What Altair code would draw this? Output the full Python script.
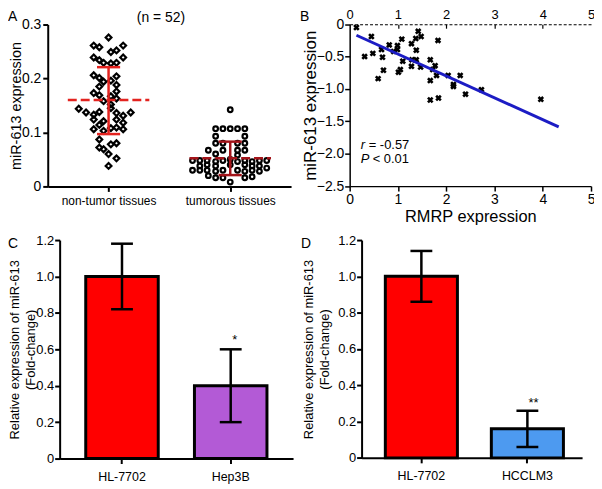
import altair as alt
import pandas as pd

W, H = 590, 481
FONT = "Liberation Sans"

# ---------------- Panel A data ----------------
groups = ["non-tumor tissues", "tumorous tissues"]
group_pos = [0.5, 1.5]
nt_jitter = [0, -0.122, -0.076, 0.120, 0.065, 0.019, -0.122, -0.076, 0.120, -0.041,
             0.019, 0.065, -0.122, -0.076, 0.065, -0.041, 0.019, 0.065, -0.076, -0.122,
             -0.076, 0.019, 0.065, -0.041, 0.019, 0.065, -0.245, -0.185, -0.122, -0.076,
             0.019, 0.065, 0.120, 0.182, -0.122, -0.041, 0.065, -0.076, 0.120, -0.122,
             -0.041, 0.019, 0.065, 0.120, -0.076, 0.019, 0.065, -0.041, -0.076, 0.0,
             0.065, 0.0]
nt_values = [0.276, 0.261, 0.258, 0.261, 0.252, 0.249, 0.239, 0.234, 0.239, 0.229,
             0.228, 0.229, 0.206, 0.201, 0.204, 0.194, 0.196, 0.188, 0.185, 0.173,
             0.169, 0.167, 0.176, 0.158, 0.152, 0.163, 0.144, 0.137, 0.133, 0.138,
             0.145, 0.136, 0.131, 0.137, 0.124, 0.121, 0.124, 0.114, 0.118, 0.106,
             0.103, 0.108, 0.109, 0.106, 0.087, 0.078, 0.080, 0.069, 0.072, 0.060,
             0.052, 0.038]
tu_jitter = [0,
             -0.12, -0.06, 0, 0.06, 0.12,
             -0.12, 0.12,
             -0.12, -0.06, 0.06, 0.12,
             -0.18, -0.06, 0.06, 0.12,
             -0.12, 0.06,
             -0.31, -0.25, -0.19, -0.12, -0.06, 0, 0.06, 0.12, 0.18, 0.24, 0.30,
             -0.25, -0.19, -0.12, 0, 0.12, 0.18, 0.24, 0.30,
             -0.31, -0.25, -0.19, -0.12, -0.06, 0.06, 0.12, 0.18, 0.24,
             -0.18, -0.12, -0.06, 0.12, 0.18,
             0]
tu_values = [0.142,
             0.107, 0.107, 0.107, 0.107, 0.107,
             0.093, 0.093,
             0.080, 0.080, 0.080, 0.080,
             0.067, 0.067, 0.067, 0.067,
             0.060, 0.058,
             0.048, 0.048, 0.048, 0.046, 0.048, 0.050, 0.046, 0.048, 0.046, 0.048, 0.048,
             0.038, 0.040, 0.038, 0.040, 0.040, 0.038, 0.038, 0.034,
             0.030, 0.030, 0.030, 0.028, 0.030, 0.030, 0.028, 0.030, 0.028,
             0.020, 0.016, 0.016, 0.016, 0.018,
             0.008]
a_mean = [0.160, 0.052]
a_lower = [0.097, 0.021]
a_upper = [0.221, 0.083]

# ---------------- Panel B data ----------------
rmrp = [0.14, 0.45, 0.31, 0.48, 0.59, 0.68, 0.70, 0.66, 0.82, 0.91, 0.99, 0.99, 1.08,
        1.10, 1.01, 1.05, 1.28, 1.37, 1.42, 1.48, 1.38, 1.29, 1.38, 1.28, 1.47, 1.83,
        1.67, 1.77, 1.72, 1.80, 1.67, 2.04, 2.29, 2.15, 2.15, 2.40, 2.73, 1.67, 1.84, 3.96]
mir613 = [-0.05, -0.19, -0.50, -0.45, -0.84, -0.51, -0.71, -0.39, -0.32, -0.42, -0.33,
          -0.39, -0.23, -0.57, -0.74, -0.70, -0.30, -0.22, -0.11, -0.19, -0.40, -0.55,
          -0.55, -0.65, -0.66, -0.25, -0.55, -0.64, -0.70, -0.79, -0.87, -0.79, -0.79,
          -0.93, -0.96, -1.08, -1.01, -1.17, -1.14, -1.16]
fit_x = [0.14, 4.33]
fit_y = [-0.17, -1.585]

# ---------------- Panel C / D data ----------------
c_lines = ["HL-7702", "Hep3B"]
c_mean = [1.0, 0.4]
c_err = [0.18, 0.20]
d_lines = ["HL-7702", "HCCLM3"]
d_mean = [1.0, 0.16]
d_err = [0.14, 0.10]

label_expr = "datum.value == 0 ? '0' : format(datum.value, '.1f')"
AX = dict(grid=False, titleFontWeight="normal", labelFont=FONT, titleFont=FONT,
          domainColor="black", tickColor="black", labelColor="black", titleColor="black")

# ================= Panel A =================
ax_s = alt.Scale(domain=[0, 2], range=[40, 285], nice=False, zero=False)
ay_s = alt.Scale(domain=[0, 0.3], range=[178, 15], nice=False)

axA_x = alt.Axis(orient="bottom", offset=178 - H, values=group_pos,
                 labelExpr="datum.value < 1 ? 'non-tumor tissues' : 'tumorous tissues'",
                 labelFontSize=12, labelPadding=4, tickSize=5, title="",
                 labelFlush=False, labelOverlap=False, domainWidth=2, tickWidth=2, **AX)
axA_y = alt.Axis(orient="left", offset=-40, values=[0, 0.1, 0.2, 0.3], labelExpr=label_expr,
                 labelFontSize=14, labelPadding=2, tickSize=5, title="miR-613 expression",
                 titleFontSize=14.5, titleX=-31, titleBaseline="middle",
                 domainWidth=2, tickWidth=2, labelOverlap=False, **AX)

df_nt = pd.DataFrame({"x": [group_pos[0] + j for j in nt_jitter], "y": nt_values})
df_tu = pd.DataFrame({"x": [group_pos[1] + j for j in tu_jitter], "y": tu_values})
df_as = pd.DataFrame({"x": group_pos, "m": a_mean, "lo": a_lower, "hi": a_upper,
                      "g": groups})

A_nt = alt.Chart(df_nt).mark_point(shape="diamond", filled=False, color="black",
                                   size=34, strokeWidth=2.2, opacity=1).encode(
    x=alt.X("x:Q", scale=ax_s, axis=axA_x),
    y=alt.Y("y:Q", scale=ay_s, axis=axA_y))
A_tu = alt.Chart(df_tu).mark_point(shape="circle", filled=False, color="black",
                                   size=22, strokeWidth=2.2, opacity=1).encode(
    x=alt.X("x:Q", scale=ax_s, axis=None),
    y=alt.Y("y:Q", scale=ay_s, axis=None))

a_col = alt.Color("g:N", scale=alt.Scale(domain=groups, range=["#e3231f", "#a3141a"]),
                  legend=None)
A_err = alt.Chart(df_as).mark_rule(strokeWidth=2.5).encode(
    x=alt.X("x:Q", scale=ax_s, axis=None),
    y=alt.Y("lo:Q", scale=ay_s, axis=None), y2="hi:Q", color=a_col)
A_caplo = alt.Chart(df_as).transform_calculate(
    x1="datum.x - 0.095", x2="datum.x + 0.095").mark_rule(strokeWidth=2.5).encode(
    x=alt.X("x1:Q", scale=ax_s, axis=None), x2="x2:Q",
    y=alt.Y("lo:Q", scale=ay_s, axis=None), color=a_col)
A_caphi = alt.Chart(df_as).transform_calculate(
    x1="datum.x - 0.095", x2="datum.x + 0.095").mark_rule(strokeWidth=2.5).encode(
    x=alt.X("x1:Q", scale=ax_s, axis=None), x2="x2:Q",
    y=alt.Y("hi:Q", scale=ay_s, axis=None), color=a_col)
A_mean = alt.Chart(df_as).transform_calculate(
    x1="datum.x - 0.335", x2="datum.x + 0.335").mark_rule(
    strokeWidth=2.5, strokeDash=[9, 4]).encode(
    x=alt.X("x1:Q", scale=ax_s, axis=None), x2="x2:Q",
    y=alt.Y("m:Q", scale=ay_s, axis=None), color=a_col)

A_n = alt.Chart(pd.DataFrame({"t": ["(n = 52)"]})).mark_text(
    fontSize=14, baseline="top", align="center", color="black", font=FONT).encode(
    text="t:N", x=alt.value(154), y=alt.value(1))

# ================= Panel B =================
bx_s = alt.Scale(domain=[0, 5], range=[344, 587], nice=False, zero=False)
by_s = alt.Scale(domain=[-2.5, 0], range=[177.7, 14.7], nice=False, zero=False)

axB_x = alt.Axis(orient="bottom", offset=177.7 - H, values=[0, 1, 2, 3, 4, 5],
                 labelFontSize=14, labelPadding=1, tickSize=5, title="RMRP expression",
                 titleFontSize=16.5, titleY=31, titleBaseline="middle", labelFlush=False,
                 labelOverlap=False, domainWidth=1.5, tickWidth=1.5, **AX)
axB_y = alt.Axis(orient="left", offset=-344, values=[0, -0.5, -1, -1.5, -2, -2.5],
                 labelExpr=label_expr, labelFontSize=14, labelPadding=1, tickSize=5,
                 title="miR-613 expression", titleFontSize=17, titleX=-39,
                 titleBaseline="middle", labelOverlap=False, domainWidth=1.5, tickWidth=1.5,
                 **AX)

df_b = pd.DataFrame({"x": rmrp, "y": mir613})
df_fit = pd.DataFrame({"x": fit_x, "y": fit_y})

B_pts = alt.Chart(df_b).mark_point(shape="M-1,-1L1,1M-1,1L1,-1", filled=False,
                                   color="black", size=22, strokeWidth=2.6,
                                   opacity=1).encode(
    x=alt.X("x:Q", scale=bx_s, axis=axB_x),
    y=alt.Y("y:Q", scale=by_s, axis=axB_y))
B_fit = alt.Chart(df_fit).mark_line(color="#1c1cc4", strokeWidth=3).encode(
    x=alt.X("x:Q", scale=bx_s, axis=None),
    y=alt.Y("y:Q", scale=by_s, axis=None))
B_toplab = alt.Chart(df_b).mark_point(opacity=0).encode(
    x=alt.X("x:Q", scale=bx_s,
            axis=alt.Axis(orient="top", offset=-14.7, values=[0, 1, 2, 3, 4, 5],
                          domain=False, ticks=False, labelFontSize=13, labelPadding=3,
                          labelFlush=False, labelOverlap=False, title="", **AX)),
    y=alt.Y("y:Q", scale=by_s, axis=None))
B_topdash = alt.Chart(df_b).mark_point(opacity=0).encode(
    x=alt.X("x:Q", scale=bx_s,
            axis=alt.Axis(orient="bottom", offset=14.7 - H, values=[1, 2, 3, 4],
                          labels=False, tickSize=4, tickWidth=1.2, domainWidth=1.2,
                          domainDash=[3, 2], title="", **AX)),
    y=alt.Y("y:Q", scale=by_s, axis=None))

df_r = pd.DataFrame({"x": [0.23], "y": [-1.86]})
df_p = pd.DataFrame({"x": [0.23], "y": [-2.08]})
TXT = dict(fontSize=13, align="left", baseline="middle", color="black", font=FONT)
B_r1 = alt.Chart(df_r).mark_text(text="r", fontStyle="italic", **TXT).encode(
    x=alt.X("x:Q", scale=bx_s, axis=None), y=alt.Y("y:Q", scale=by_s, axis=None))
B_r2 = alt.Chart(df_r).mark_text(text="= -0.57", dx=8, **TXT).encode(
    x=alt.X("x:Q", scale=bx_s, axis=None), y=alt.Y("y:Q", scale=by_s, axis=None))
B_p1 = alt.Chart(df_p).mark_text(text="P", fontStyle="italic", **TXT).encode(
    x=alt.X("x:Q", scale=bx_s, axis=None), y=alt.Y("y:Q", scale=by_s, axis=None))
B_p2 = alt.Chart(df_p).mark_text(text="< 0.01", dx=12, **TXT).encode(
    x=alt.X("x:Q", scale=bx_s, axis=None), y=alt.Y("y:Q", scale=by_s, axis=None))


# ================= Panels C & D =================
def bar_panel(lines, means, errs, colors, x_rng, y_rng, axis_x, pad_in, pad_out, align,
              star, star_y, title_x):
    df = pd.DataFrame({"line": lines, "m": means,
                       "lo": [m - e for m, e in zip(means, errs)],
                       "hi": [m + e for m, e in zip(means, errs)]})
    xs = alt.Scale(domain=lines, range=x_rng, paddingInner=pad_in, paddingOuter=pad_out,
                   align=align)
    ys = alt.Scale(domain=[0, 1.2], range=y_rng, nice=False)
    ax_x = alt.Axis(orient="bottom", offset=y_rng[0] - H, labelFontSize=12.5,
                    labelPadding=7, tickSize=5, title="", labelAngle=0,
                    domainWidth=2, tickWidth=2, **AX)
    ax_y = alt.Axis(orient="left", offset=-axis_x, values=[0, 0.2, 0.4, 0.6, 0.8, 1.0, 1.2],
                    labelExpr=label_expr, labelFontSize=13, labelPadding=1, tickSize=5,
                    title=["Relative expression of miR-613", "(Fold-change)"],
                    titleFontSize=13, titleLineHeight=16, titleX=title_x,
                    titleBaseline="middle", labelOverlap=False, domainWidth=2, tickWidth=2,
                    **AX)
    col = alt.Color("line:N", scale=alt.Scale(domain=lines, range=colors), legend=None)
    bars = alt.Chart(df).mark_bar(stroke="black", strokeWidth=3, opacity=1).encode(
        x=alt.X("line:N", scale=xs, axis=ax_x, sort=lines),
        y=alt.Y("m:Q", scale=ys, axis=ax_y), color=col)
    err = alt.Chart(df).mark_rule(color="black", strokeWidth=2.5).encode(
        x=alt.X("line:N", scale=xs, axis=None, sort=lines),
        y=alt.Y("lo:Q", scale=ys, axis=None), y2="hi:Q")
    cap_lo = alt.Chart(df).mark_tick(color="black", thickness=2.5, size=22, opacity=1).encode(
        x=alt.X("line:N", scale=xs, axis=None, sort=lines),
        y=alt.Y("lo:Q", scale=ys, axis=None))
    cap_hi = alt.Chart(df).mark_tick(color="black", thickness=2.5, size=22, opacity=1).encode(
        x=alt.X("line:N", scale=xs, axis=None, sort=lines),
        y=alt.Y("hi:Q", scale=ys, axis=None))
    df_s = pd.DataFrame({"line": [lines[1]], "y": [star_y], "t": [star]})
    stars = alt.Chart(df_s).mark_text(fontSize=13, baseline="middle", color="black",
                                      font=FONT).encode(
        x=alt.X("line:N", scale=xs, axis=None, sort=lines),
        y=alt.Y("y:Q", scale=ys, axis=None), text="t:N")
    return [bars, err, cap_lo, cap_hi, stars]


C_units = bar_panel(c_lines, c_mean, c_err, ["#ff0000", "#b35ad6"], [52, 287],
                    [452, 232], 52, 0.333, 0.24, 0.5, "*", 0.652, -45.5)
D_units = bar_panel(d_lines, d_mean, d_err, ["#ff0000", "#4d9af0"], [356, 578],
                    [451.3, 232], 356, 0.32, 0.2, 0.56, "**", 0.30, -53)


def letter(t, x, y):
    return alt.Chart(pd.DataFrame({"t": [t]})).mark_text(
        fontSize=14, baseline="top", align="left", color="black", font=FONT).encode(
        text="t:N", x=alt.value(x), y=alt.value(y))


units = [A_nt, A_tu, A_err, A_caplo, A_caphi, A_mean, A_n,
         B_pts, B_fit, B_toplab, B_topdash, B_r1, B_r2, B_p1, B_p2] + C_units + D_units + [
    letter("A", 0, 0), letter("B", 294, 0), letter("C", 0, 229), letter("D", 295, 229)]

chart = alt.layer(*units).resolve_scale(
    x="independent", y="independent", color="independent"
).properties(
    width=W, height=H, autosize=alt.AutoSizeParams(type="none"), padding=0
).configure_view(strokeWidth=0).configure_axis(
    grid=False, domainColor="black", tickColor="black", labelColor="black",
    titleColor="black", labelFont=FONT, titleFont=FONT, titleFontWeight="normal"
).configure_text(font=FONT)

chart.save("out.html", embed_options={"renderer": "svg", "actions": False})
